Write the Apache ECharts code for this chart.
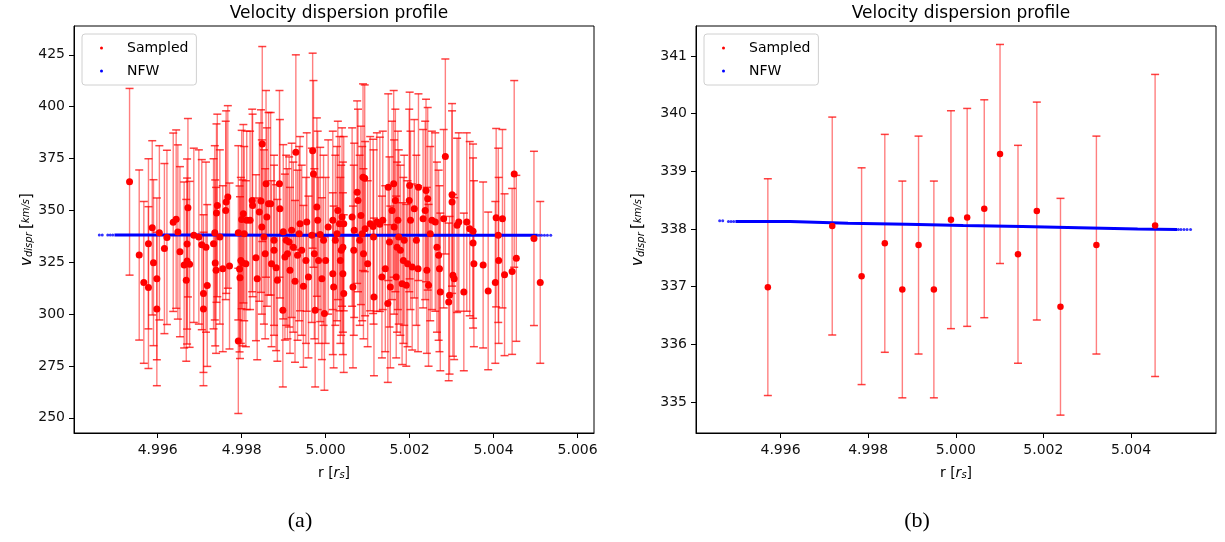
<!DOCTYPE html>
<html>
<head>
<meta charset="utf-8">
<script src="https://cdn.jsdelivr.net/npm/echarts@6/dist/echarts.min.js"></script>
<style>
html,body{margin:0;padding:0;background:#fff;}
#chart{width:1225px;height:542px;}
</style>
</head>
<body>
<div id="chart"></div>
<script>
// ---------- DATA ----------
// Panel (a): sampled points [r, v_dispr, error]
const sampledA = [
[4.99533,363.8,45],[4.99556,328.5,41],[4.99567,315.3,39],[4.99578,333.9,41],[4.99578,312.8,39],
[4.99587,341.6,42],[4.99590,324.8,40],[4.99598,317.0,39],[4.99598,302.5,37],[4.99604,339.2,42],
[4.99616,331.6,41],[4.99622,337.0,42],[4.99637,344.3,43],[4.99644,345.8,43],[4.99648,339.6,42],
[4.99653,330.1,41],[4.99663,323.7,40],[4.99670,333.8,41],[4.99672,351.3,43],[4.99670,325.6,40],
[4.99668,316.3,39],[4.99676,324.0,40],[4.99686,338.0,42],[4.99698,337.2,42],[4.99705,333.5,41],
[4.99709,302.5,37],[4.99709,309.9,38],[4.99715,332.3,41],[4.99718,313.8,39],[4.99733,333.9,41],
[4.99737,324.7,40],[4.99739,321.1,40],[4.99736,339.2,42],[4.99740,348.7,43],[4.99742,352.4,44],
[4.99748,337.2,42],[4.99755,321.9,40],[4.99762,350.0,43],[4.99763,354.0,44],[4.99767,356.5,44],
[4.99771,323.2,40],[4.99792,339.2,42],[4.99792,287.1,35],[4.99795,321.8,40],[4.99796,317.6,39],
[4.99798,325.9,40],[4.99800,345.6,43],[4.99804,348.4,43],[4.99806,338.8,42],[4.99812,345.2,43],
[4.99820,345.2,43],[4.99802,324.7,40],[4.99810,324.3,40],[4.99825,354.8,44],[4.99826,352.4,44],
[4.99834,327.2,40],[4.99837,317.0,39],[4.99842,349.2,43],[4.99846,354.5,44],[4.99848,342.0,42],
[4.99849,382.0,47],[4.99853,337.2,42],[4.99858,362.8,45],[4.99856,329.1,41],[4.99860,346.8,43],
[4.99864,353.2,44],[4.99869,353.2,44],[4.99871,324.3,40],[4.99877,335.6,41],[4.99877,330.8,41],
[4.99882,322.4,40],[4.99885,316.3,39],[4.99890,362.8,45],[4.99891,350.8,43],[4.99898,301.9,37],
[4.99899,339.7,42],[4.99903,327.5,40],[4.99906,335.6,41],[4.99909,329.1,41],[4.99913,334.8,41],
[4.99915,321.1,40],[4.99919,340.4,42],[4.99923,332.3,41],[4.99927,315.8,39],[4.99929,378.0,47],
[4.99933,328.4,41],[4.99937,338.8,42],[4.99939,343.6,42],[4.99943,330.8,41],[4.99947,313.4,39],
[4.99953,325.9,40],[4.99955,344.4,43],[4.99959,317.9,39],[4.99967,338.0,42],[4.99969,378.8,47],
[4.99971,367.6,45],[4.99973,329.1,41],[4.99975,301.9,37],[4.99979,351.6,43],[4.99981,345.2,43],
[4.99983,325.9,40],[4.99987,338.4,42],[4.99991,317.1,39],[4.99995,335.6,41],[5.00000,325.9,40],
[4.99997,300.3,37],[5.00006,342.0,42],
[5.00017,345.2,43],[5.00017,319.5,39],[5.00019,313.1,39],[5.00023,335.6,41],[5.00027,338.8,42],
[5.00029,350.0,43],[5.00033,343.6,42],[5.00035,325.9,40],[5.00037,330.8,41],[5.00039,346.8,43],
[5.00041,319.5,39],[5.00041,332.3,41],[5.00043,309.9,38],[5.00043,343.6,42],[5.00063,346.8,43],
[5.00065,313.1,39],[5.00067,330.8,41],[5.00068,340.4,42],[5.00075,358.8,44],[5.00077,354.8,44],
[5.00081,335.6,41],[5.00084,347.6,43],[5.00087,338.8,42],[5.00089,366.0,45],[5.00090,329.1,41],
[5.00093,365.5,45],[5.00094,341.2,42],[5.00100,324.3,40],[5.00106,343.6,42],[5.00113,342.3,42],
[5.00114,337.2,42],[5.00115,308.3,38],[5.00122,344.4,43],[5.00129,343.3,42],[5.00134,317.9,39],
[5.00136,345.2,43],[5.00142,321.9,40],[5.00148,305.1,38],[5.00149,361.2,45],[5.00152,334.8,41],
[5.00154,313.1,39],[5.00158,350.0,43],[5.00162,362.8,45],[5.00163,342.0,42],[5.00166,354.8,44],
[5.00168,317.9,39],[5.00170,332.3,41],[5.00172,345.2,43],[5.00174,337.2,42],[5.00178,330.8,41],
[5.00182,314.7,39],[5.00185,325.9,40],[5.00187,335.6,41],[5.00192,313.9,39],[5.00195,324.3,40],
[5.00200,362.0,45],[5.00199,354.8,44],[5.00202,345.2,43],[5.00206,322.7,40],[5.00211,350.8,43],
[5.00216,335.6,41],[5.00220,321.9,40],[5.00221,361.2,45],[5.00232,346.0,43],[5.00237,350.0,43],
[5.00239,359.6,44],[5.00241,321.1,40],[5.00243,355.6,44],[5.00245,313.9,39],[5.00249,338.8,42],
[5.00253,345.2,43],[5.00261,344.4,43],[5.00265,332.3,41],[5.00269,328.4,41],[5.00271,321.9,40],
[5.00273,310.7,38],[5.00285,376.0,47],[5.00281,346.0,43],[5.00293,305.9,38],[5.00295,309.1,38],
[5.00301,357.5,44],[5.00301,354.0,44],[5.00303,318.7,39],[5.00306,317.1,39],[5.00313,342.8,42],
[5.00317,344.4,43],[5.00329,310.7,38],
[5.00336,344.4,43],[5.00343,341.2,42],[5.00351,340.0,42],[5.00351,334.3,41],[5.00353,324.3,40],
[5.00375,323.7,40],[5.00387,311.2,38],[5.00404,315.3,39],[5.00406,346.5,43],[5.00411,338.0,42],
[5.00412,325.9,40],[5.00421,346.0,43],[5.00426,319.0,39],[5.00444,320.6,40],[5.00449,367.6,45],
[5.00454,326.9,40],[5.00496,336.5,42],[5.00511,315.3,39]
];
// Panel (b): sampled points [r, v_dispr, error]
const sampledB = [
[4.99571,336.99,1.88],[4.99718,338.05,1.89],[4.99785,337.18,1.88],[4.99838,337.75,1.89],
[4.99878,336.95,1.88],[4.99915,337.72,1.89],[4.99950,336.95,1.88],[4.99989,338.16,1.89],
[5.00026,338.20,1.89],[5.00065,338.35,1.89],[5.00101,339.30,1.90],[5.00142,337.56,1.89],
[5.00185,338.31,1.89],[5.00239,336.65,1.88],[5.00321,337.72,1.89],[5.00455,338.06,2.62]
];
// NFW profile: step levels (r where a level starts, value)
const nfwStepR = [4.99497,4.99622,4.99754,4.99888,5.00017,5.00152,5.00281,5.00415,5.00505];
const nfwStepV = [338.13,338.10,338.08,338.06,338.04,338.02,338.00,337.99,337.99];
// sparse NFW dots at both ends
const nfwDotR = [4.99461,4.99468,4.99481,4.99487,4.99493,5.00508,5.00514,5.00521,5.00528,5.00536];
const nfwDotV = [338.14,338.14,338.13,338.13,338.13,337.99,337.99,337.99,337.99,337.99];

const xTicksA = [4.996,4.998,5.000,5.002,5.004,5.006];
const xTicksB = [4.996,4.998,5.000,5.002,5.004];
const yTicksA = [250,275,300,325,350,375,400,425];
const yTicksB = [335,336,337,338,339,340,341];

// ---------- CHART ----------
const FONT = 'DejaVu Sans';
const nfwLine = nfwStepR.map((r,i)=>[r,nfwStepV[i]]);
const nfwDots = nfwDotR.map((r,i)=>[r,nfwDotV[i]]);

function errItem(params, api){
  const x = api.value(0), y = api.value(1), e = api.value(2);
  const t = api.coord([x, y+e]), b = api.coord([x, y-e]);
  const cw = 4;
  const ls = {stroke:'rgba(255,0,0,0.5)', lineWidth:1.4};
  const cs = {stroke:'rgba(255,0,0,0.75)', lineWidth:1.5};
  return {type:'group', children:[
    {type:'line', shape:{x1:t[0],y1:t[1],x2:b[0],y2:b[1]}, style:ls},
    {type:'line', shape:{x1:t[0]-cw,y1:t[1],x2:t[0]+cw,y2:t[1]}, style:cs},
    {type:'line', shape:{x1:b[0]-cw,y1:b[1],x2:b[0]+cw,y2:b[1]}, style:cs}
  ]};
}

const GL = [74, 696], GT = 26, GW = 520, GH = 407;
const xr = [[4.994007,5.00639],[4.99407,5.00594]];
const yr = [[242.7,438.9],[334.46,341.52]];
const xt = [xTicksA, xTicksB], yt = [yTicksA, yTicksB];
const yNameGap = [33, 50];

const yName = '{v|v}{s|dispr} {b|[}{f|km/s}{b|]}';
const xName = '{n|r [}{i|r}{s|s}{n|]}';
const rich = {
  v:{fontSize:15, fontStyle:'italic', fontFamily:FONT, color:'#000'},
  s:{fontSize:10, fontStyle:'italic', fontFamily:FONT, color:'#000', verticalAlign:'bottom'},
  b:{fontSize:15, fontFamily:FONT, color:'#000'},
  f:{fontSize:10, fontStyle:'italic', fontFamily:FONT, color:'#000'},
  n:{fontSize:14, fontFamily:FONT, color:'#000'},
  i:{fontSize:14, fontStyle:'italic', fontFamily:FONT, color:'#000'}
};

const grids=[], xAxes=[], yAxes=[], titles=[], legends=[], series=[];
for (let k=0;k<2;k++){
  grids.push({left:GL[k], top:GT, width:GW, height:GH, show:true, borderColor:'#000', borderWidth:1, backgroundColor:'rgba(0,0,0,0)'});
  xAxes.push({gridIndex:k, type:'value', min:xr[k][0], max:xr[k][1],
    axisLine:{show:true,onZero:false,lineStyle:{color:'#000',width:1}},
    axisTick:{show:true,inside:false,length:5,customValues:xt[k],lineStyle:{color:'#000'}},
    axisLabel:{customValues:xt[k], margin:10, fontSize:14, fontFamily:FONT, color:'#111', formatter:v=>v.toFixed(3)},
    splitLine:{show:false},
    name:xName, nameLocation:'middle', nameGap:33, nameTextStyle:{rich:rich}
  });
  yAxes.push({gridIndex:k, type:'value', min:yr[k][0], max:yr[k][1],
    axisLine:{show:true,onZero:false,lineStyle:{color:'#000',width:1}},
    axisTick:{show:true,inside:false,length:5,customValues:yt[k],lineStyle:{color:'#000'}},
    axisLabel:{customValues:yt[k], margin:9, fontSize:14, fontFamily:FONT, color:'#111'},
    splitLine:{show:false},
    name:yName, nameLocation:'middle', nameGap:yNameGap[k], nameRotate:90, nameTextStyle:{rich:rich}
  });
  titles.push({text:'Velocity dispersion profile', left:GL[k]+GW/2, top:0, textAlign:'center',
    textStyle:{fontFamily:FONT, fontSize:17, fontWeight:'normal', color:'#000'}});
  legends.push({left:GL[k]+8, top:34, orient:'vertical', itemWidth:3, itemHeight:3, itemGap:9,
    data:[{name:'Sampled',icon:'circle'},{name:'NFW',icon:'circle'}],
    backgroundColor:'#fff', borderColor:'#d0d0d0', borderWidth:1, borderRadius:3,
    padding:[7,8,7,18], selectedMode:false,
    textStyle:{fontFamily:FONT, fontSize:14, color:'#000', padding:[0,0,0,19]}});
  const d = k===0 ? sampledA : sampledB;
  series.push({name:'err'+k, type:'custom', xAxisIndex:k, yAxisIndex:k, data:d, renderItem:errItem,
    encode:{x:0,y:1}, clip:true, z:2, silent:true});
  series.push({name:'NFW', type:'line', step:'end', xAxisIndex:k, yAxisIndex:k, data:nfwLine,
    showSymbol:false, color:'#0000ff', lineStyle:{color:'#0000ff', width:3}, z:3, silent:true});
  series.push({name:'NFW', type:'scatter', xAxisIndex:k, yAxisIndex:k, data:nfwDots,
    symbolSize:3, itemStyle:{color:'#0000ff'}, z:3, silent:true});
  series.push({name:'Sampled', type:'scatter', xAxisIndex:k, yAxisIndex:k, data:d.map(p=>[p[0],p[1]]),
    symbolSize:k===0?7:6.5, itemStyle:{color:'#ff0000', opacity:1}, z:4, silent:true});
}

const chart = echarts.init(document.getElementById('chart'), null, {renderer:'canvas'});
chart.setOption({
  animation:false,
  backgroundColor:'#fff',
  title:titles, grid:grids, xAxis:xAxes, yAxis:yAxes, legend:legends, series:series,
  graphic:[
    {type:'text', x:300, y:521, style:{text:'(a)', fontSize:22, fontFamily:'Liberation Serif', fill:'#000', align:'center', verticalAlign:'middle'}},
    {type:'text', x:917, y:521, style:{text:'(b)', fontSize:22, fontFamily:'Liberation Serif', fill:'#000', align:'center', verticalAlign:'middle'}}
  ]
});
</script>
</body>
</html>
